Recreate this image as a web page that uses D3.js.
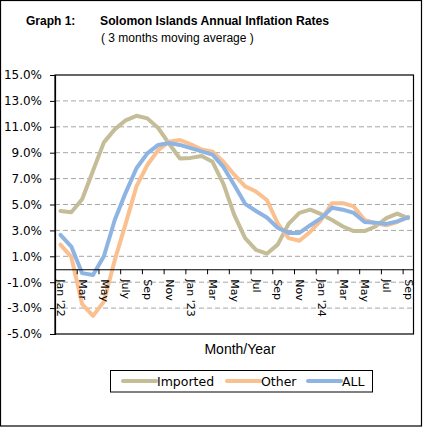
<!DOCTYPE html>
<html>
<head>
<meta charset="utf-8">
<script src="https://cdn.jsdelivr.net/npm/d3@7"></script>
<style>
  body { margin: 0; background: #fff; }
  svg { display: block; }
</style>
</head>
<body>
<div id="chart"></div>
<script>
// monthly categories, Jan '22 .. Sep '24
var months = ["Jan 22","Feb 22","Mar 22","Apr 22","May 22","Jun 22","Jul 22","Aug 22","Sep 22","Oct 22","Nov 22","Dec 22",
              "Jan 23","Feb 23","Mar 23","Apr 23","May 23","Jun 23","Jul 23","Aug 23","Sep 23","Oct 23","Nov 23","Dec 23",
              "Jan 24","Feb 24","Mar 24","Apr 24","May 24","Jun 24","Jul 24","Aug 24","Sep 24"];
var tickLabels = ["Jan '22","Mar","May","July","Sep","Nov","Jan '23","Mar","May","Jul","Sep","Nov","Jan '24","Mar","May","Jul","Sep"];
var yTicks = [15, 13, 11, 9, 7, 5, 3, 1, -1, -3, -5];

var imported = [4.5, 4.4, 5.4, 7.6, 9.8, 10.8, 11.5, 11.85, 11.65, 10.9, 9.7, 8.55, 8.6, 8.75, 8.3, 6.6, 4.2, 2.4, 1.5, 1.2, 1.9, 3.5, 4.35, 4.6, 4.25, 3.8, 3.3, 2.95, 2.95, 3.3, 3.95, 4.3, 3.95];
var other    = [1.9, 0.95, -2.7, -3.6, -2.5, 0.7, 3.5, 6.4, 8.05, 9.2, 9.85, 9.98, 9.65, 9.25, 9.08, 8.3, 7.3, 6.4, 6.0, 5.35, 3.55, 2.4, 2.2, 2.9, 3.8, 5.1, 5.1, 4.85, 3.8, 3.55, 3.4, 3.65, 4.05];
var all      = [2.65, 1.75, -0.3, -0.45, 1.0, 3.8, 5.9, 7.8, 8.95, 9.6, 9.75, 9.6, 9.35, 9.1, 8.85, 7.9, 6.5, 5.05, 4.5, 4.0, 3.2, 2.8, 2.8, 3.4, 3.95, 4.75, 4.6, 4.35, 3.65, 3.6, 3.5, 3.7, 4.0];

var seriesNames = ["Imported", "Other", "ALL"];
var seriesColors = ["#C4BD97", "#FAC090", "#8EB4E3"];
var seriesData = [imported, other, all];

var W = 425, H = 428;
var pLeft = 55, pRight = 413.5, pTop = 75, pBottom = 334;

var svg = d3.select("#chart").append("svg")
    .attr("width", W)
    .attr("height", H);

// outer frame
svg.append("rect")
    .attr("x", 0.5).attr("y", 0.5)
    .attr("width", 421).attr("height", 425.5)
    .attr("fill", "none").attr("stroke", "#000").attr("stroke-width", 1.2);

// titles
svg.append("text")
    .attr("x", 26).attr("y", 25)
    .style("font-family", "Liberation Sans, Arial, sans-serif")
    .style("font-size", "12px").style("font-weight", "bold")
    .text("Graph 1:");
svg.append("text")
    .attr("x", 100).attr("y", 25)
    .style("font-family", "Liberation Sans, Arial, sans-serif")
    .style("font-size", "12.2px").style("font-weight", "bold")
    .text("Solomon Islands Annual Inflation Rates");
svg.append("text")
    .attr("x", 101).attr("y", 42)
    .style("font-family", "Liberation Sans, Arial, sans-serif")
    .style("font-size", "12px")
    .text("( 3 months moving average )");

var x = d3.scalePoint()
    .domain(months)
    .range([pLeft, pRight])
    .padding(0.5);

var y = d3.scaleLinear()
    .domain([-5, 15])
    .range([pBottom, pTop]);

// dashed gridlines
svg.append("g")
    .selectAll("line")
    .data(yTicks.filter(function(d) { return d != 15 && d != -5; }))
    .enter().append("line")
    .attr("x1", pLeft).attr("x2", pRight)
    .attr("y1", function(d) { return y(d); })
    .attr("y2", function(d) { return y(d); })
    .attr("stroke", "#A6A6A6")
    .attr("stroke-width", 1)
    .attr("stroke-dasharray", "5,3");

// lines
var line = d3.line()
    .x(function(d, i) { return x(months[i]); })
    .y(function(d) { return y(d); });

svg.append("g")
    .selectAll("path")
    .data(seriesData)
    .enter().append("path")
    .attr("d", line)
    .attr("fill", "none")
    .attr("stroke", function(d, i) { return seriesColors[i]; })
    .attr("stroke-width", 4)
    .attr("stroke-linejoin", "round")
    .attr("stroke-linecap", "round");

// plot frame
svg.append("rect")
    .attr("x", pLeft).attr("y", pTop)
    .attr("width", pRight - pLeft).attr("height", pBottom - pTop)
    .attr("fill", "none").attr("stroke", "#000").attr("stroke-width", 1.2);

// y axis
var yAxis = svg.append("g")
    .attr("transform", "translate(" + pLeft + ",0)")
    .call(d3.axisLeft(y).tickValues(yTicks).tickSize(5).tickPadding(8)
        .tickFormat(function(d) { return d.toFixed(1) + "%"; }));
yAxis.select(".domain").attr("stroke", "#000").attr("stroke-width", 1.2);
yAxis.selectAll("text")
    .style("font-family", "DejaVu Sans, Verdana, sans-serif")
    .style("font-size", "12px")
    .attr("fill", "#000");

// x axis on the zero line, ticks between categories (drawn over the lines)
var step = x.step();
var shown = months.filter(function(d, i) { return i % 2 == 0; });
var xAxis = svg.append("g")
    .attr("transform", "translate(0," + y(0) + ")")
    .call(d3.axisBottom(x).tickValues(shown).tickSize(5).tickSizeOuter(0)
        .tickFormat(function(d, i) { return tickLabels[i]; }));
xAxis.select(".domain").attr("stroke", "#000").attr("stroke-width", 1.2);
xAxis.selectAll(".tick line")
    .attr("stroke", "#000")
    .attr("transform", "translate(" + (-step / 2) + ",0)");
xAxis.selectAll(".tick text")
    .style("font-family", "DejaVu Sans, Verdana, sans-serif")
    .style("font-size", "11px")
    .attr("fill", "#000")
    .attr("text-anchor", "start")
    .attr("transform", "rotate(90)")
    .attr("x", 10)
    .attr("y", 0)
    .attr("dy", "0.35em");

// axis title
svg.append("text")
    .attr("x", 240).attr("y", 354)
    .attr("text-anchor", "middle")
    .style("font-family", "Liberation Sans, Arial, sans-serif")
    .style("font-size", "14px")
    .text("Month/Year");

// legend
var legend = svg.append("g");
legend.append("rect")
    .attr("x", 110.5).attr("y", 370.5)
    .attr("width", 262).attr("height", 21.5)
    .attr("fill", "#fff").attr("stroke", "#000").attr("stroke-width", 1);

var legendX = [123, 227, 308];
var item = legend.selectAll("g.item")
    .data(seriesNames)
    .enter().append("g")
    .attr("class", "item")
    .attr("transform", function(d, i) { return "translate(" + legendX[i] + ",381)"; });
item.append("line")
    .attr("x1", 0).attr("x2", 33)
    .attr("stroke", function(d, i) { return seriesColors[i]; })
    .attr("stroke-width", 4)
    .attr("stroke-linecap", "round");
item.append("text")
    .attr("x", 34).attr("y", 5)
    .style("font-family", "DejaVu Sans, Verdana, sans-serif")
    .style("font-size", "12.5px")
    .text(function(d) { return d; });
</script>
</body>
</html>
